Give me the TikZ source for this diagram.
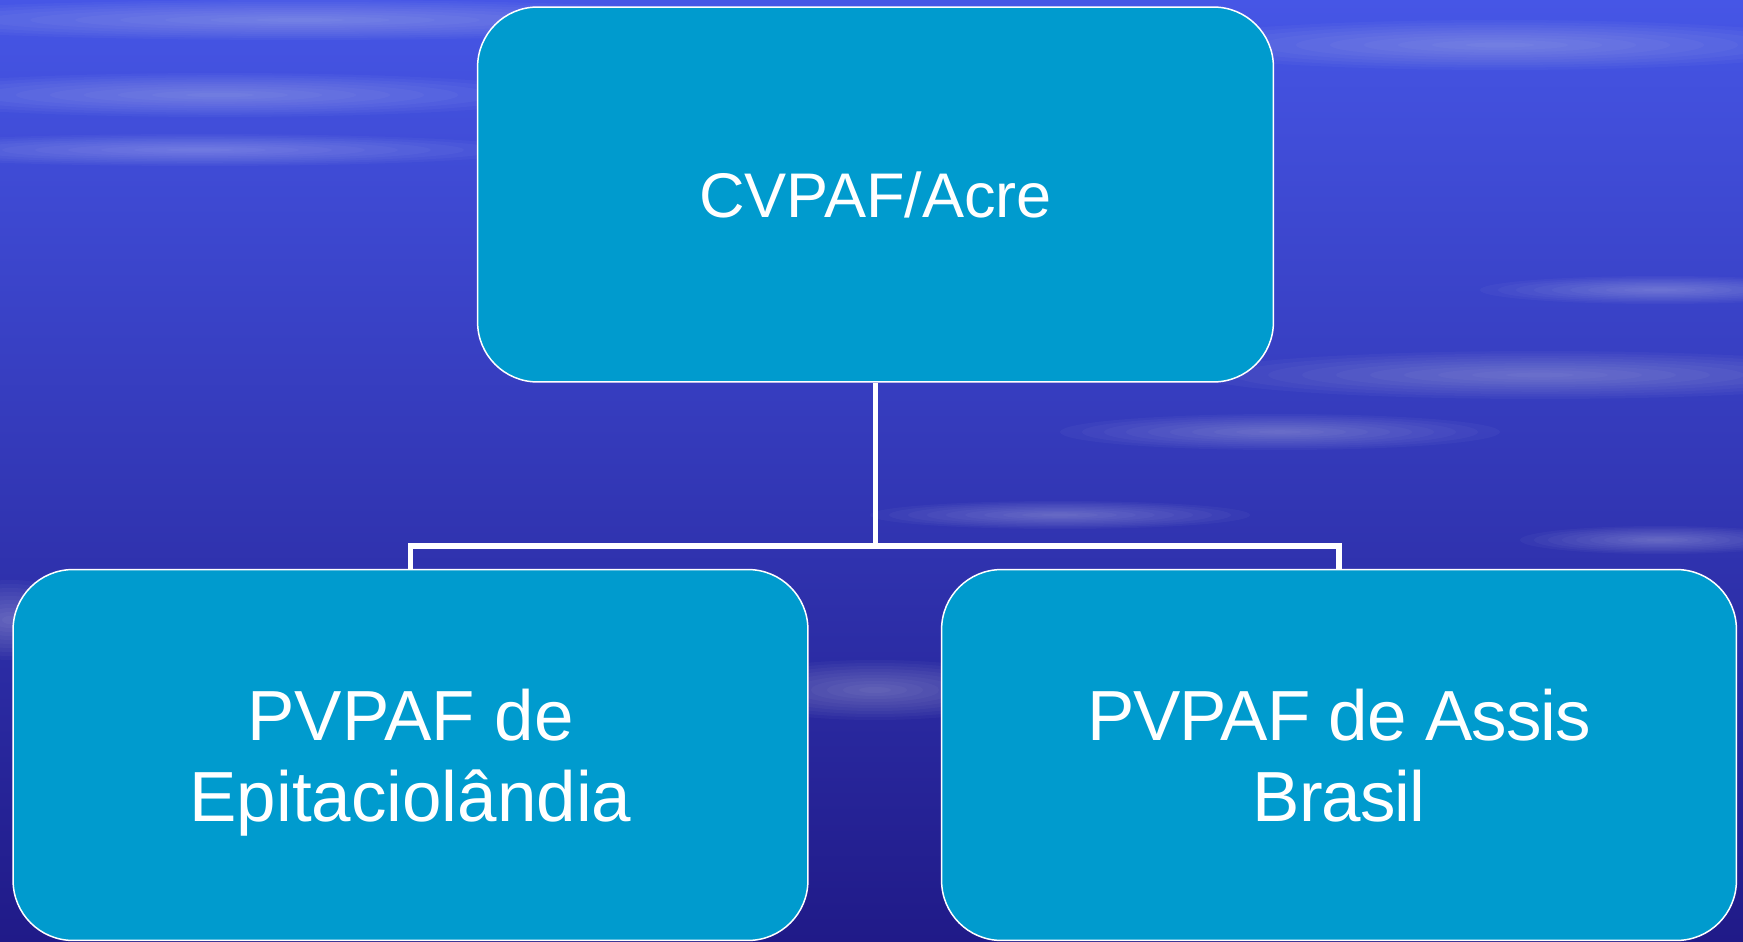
\documentclass[tikz,border=0pt]{standalone}
\usepackage{fontspec}
\usepackage{tikz}
\setmainfont{Liberation Sans}

\definecolor{boxblue}{RGB}{0,155,206}
\definecolor{skytop}{RGB}{70,86,230}
\definecolor{skymid}{RGB}{38,36,184}
\definecolor{skybot}{RGB}{32,26,136}

% soft white streak in the sky
\newcommand{\skystreak}[4]{%
  \foreach \k in {1,...,10}{\fill[streak] (#1,#2) ellipse [x radius={#3*\k/10}, y radius={#4*\k/10}];}}

\begin{document}
\begin{tikzpicture}[x=0.02cm,y=-0.02cm,
    orgbox/.style={draw=white, line width=0.85pt, fill=boxblue, rounded corners=1.2cm,
      text=white, align=center, inner sep=0pt, text depth=0pt,
      minimum width=15.9cm, minimum height=7.42cm},
    link/.style={draw=white, line width=3.1pt},
    streak/.style={white, opacity=0.03}]
	\useasboundingbox (0,0) rectangle (1743,942);
	\clip (0,0) rectangle (1743,942);
	% background
	\shade[top color=skytop, middle color=skymid, bottom color=skybot] (0,0) rectangle (1743,942);
	\skystreak{220}{95}{340}{22}
	\skystreak{200}{150}{330}{16}
	\skystreak{300}{20}{450}{20}
	\skystreak{1500}{45}{340}{25}
	\skystreak{1660}{290}{180}{14}
	\skystreak{1540}{375}{340}{24}
	\skystreak{1280}{432}{220}{18}
	\skystreak{1060}{515}{190}{14}
	\skystreak{1660}{540}{140}{14}
	\skystreak{875}{690}{160}{30}
	\skystreak{10}{620}{80}{40}
	% boxes
	\node[orgbox, minimum width=15.92cm, minimum height=7.5cm,
	  font=\fontsize{35.9}{43}\selectfont] (cvpaf) at (875.5,194.5) {CVPAF/Acre};
	\node[orgbox, font=\fontsize{40.4}{46.1}\selectfont] (epita) at (410.5,755) {PVPAF de\\Epitaciolândia};
	\node[orgbox, font=\fontsize{40.4}{46.1}\selectfont\addfontfeature{LetterSpace=-1.5}] (assis) at (1339,755) {PVPAF de Assis\\Brasil};
	% connectors
	\coordinate (split) at (875.5,546);
	\draw[link] (cvpaf.south) -- (split) -| (epita.north);
	\draw[link] (split) -| (assis.north);
\end{tikzpicture}
\end{document}
